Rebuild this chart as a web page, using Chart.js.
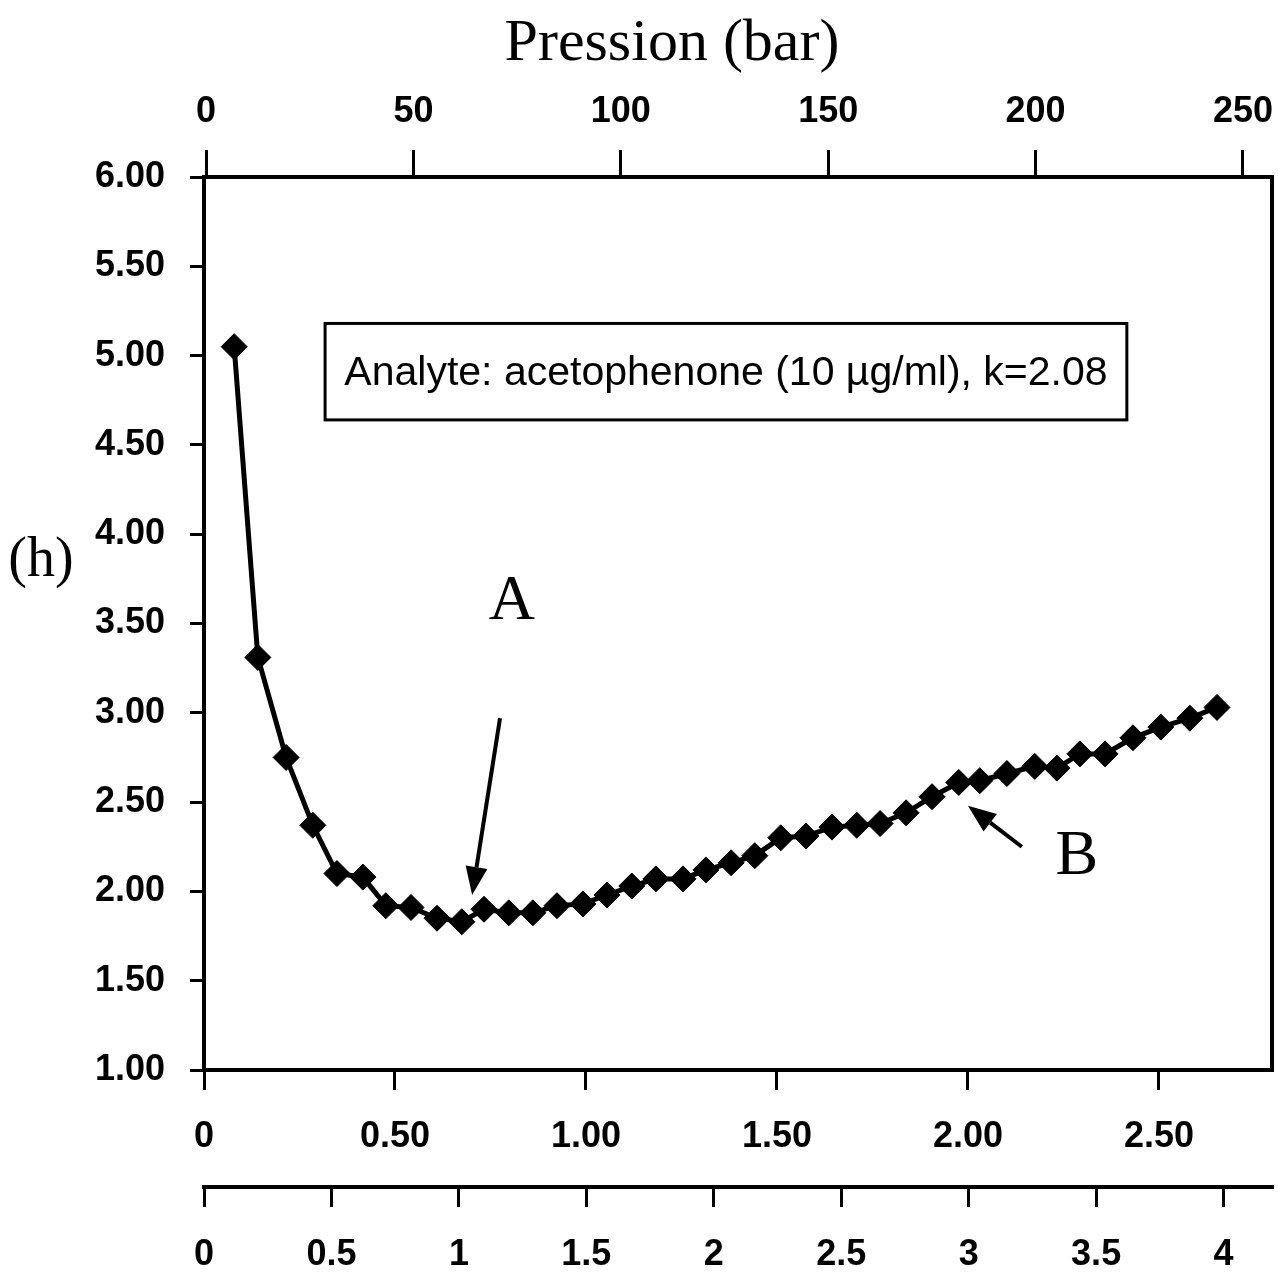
<!DOCTYPE html>
<html>
<head>
<meta charset="utf-8">
<script src="https://cdn.jsdelivr.net/npm/chart.js@4.4.0/dist/chart.umd.min.js"></script>
<style>
	body { margin: 0; background: #fff; }
	#wrap { width: 1278px; height: 1282px; }
</style>
</head>
<body>
<div id="wrap"><canvas id="myChart"></canvas></div>
<script>
// flow read on the lower scale (axis 1), plate height h on y
const flow = [0.079, 0.141, 0.215, 0.285, 0.348, 0.416, 0.476, 0.542, 0.610, 0.675,
	0.733, 0.798, 0.861, 0.924, 0.992, 1.055, 1.120, 1.183, 1.254, 1.314,
	1.380, 1.442, 1.510, 1.576, 1.644, 1.709, 1.770, 1.838, 1.906, 1.976,
	2.031, 2.102, 2.175, 2.233, 2.293, 2.359, 2.432, 2.505, 2.581, 2.652];
const height = [5.05, 3.31, 2.75, 2.37, 2.10, 2.08, 1.92, 1.91, 1.85, 1.83,
	1.90, 1.88, 1.88, 1.92, 1.93, 1.98, 2.03, 2.07, 2.07, 2.12,
	2.16, 2.20, 2.30, 2.31, 2.36, 2.37, 2.38, 2.44, 2.53, 2.61,
	2.62, 2.66, 2.70, 2.69, 2.77, 2.77, 2.86, 2.92, 2.97, 3.03];

const yTicks = [1, 1.5, 2, 2.5, 3, 3.5, 4, 4.5, 5, 5.5, 6];
const axis1Ticks = [0, 0.5, 1, 1.5, 2, 2.5];
const axis2Ticks = [0, 0.5, 1, 1.5, 2, 2.5, 3, 3.5, 4];
const pressureTicks = [0, 50, 100, 150, 200, 250];

const boxText = 'Analyte: acetophenone (10 µg/ml), k=2.08';
const topTitle = 'Pression (bar)';
const leftTitle = '(h)';

const tickFont = { family: "'Liberation Sans', Arial, sans-serif", size: 36, weight: 'bold', lineHeight: 1 };

function fixedTicks(list) {
	return function(scale) {
		scale.ticks = list.map(v => ({ value: v }));
	};
}

function noPad(s) {
	s.paddingLeft = 0; s.paddingRight = 0; s.paddingTop = 0; s.paddingBottom = 0;
}

function axisBase(extra) {
	return Object.assign({
		type: 'linear',
		bounds: 'data',
		grid: { drawOnChartArea: false, color: '#000', lineWidth: 3, tickWidth: 3, tickLength: 20 },
		border: { display: true, color: '#000', width: 4 },
		ticks: { color: '#000', font: tickFont, maxRotation: 0, autoSkip: false }
	}, extra);
}

const extras = {
	id: 'extras',
	afterDraw(chart) {
		const c = chart.ctx;
		const a = chart.chartArea;
		const sx = chart.scales.x, sy = chart.scales.y;
		c.save();
		c.strokeStyle = '#000';
		c.fillStyle = '#000';
		// right frame
		c.lineWidth = 4;
		c.beginPath();
		c.moveTo(a.right, a.top);
		c.lineTo(a.right, a.bottom);
		c.stroke();

		// analyte box
		const bx0 = sx.getPixelForValue(0.317), bx1 = sx.getPixelForValue(2.416);
		const by0 = sy.getPixelForValue(5.18), by1 = sy.getPixelForValue(4.64);
		c.lineWidth = 3;
		c.strokeRect(bx0, by0, bx1 - bx0, by1 - by0);
		c.font = "41px 'Liberation Sans', Arial, sans-serif";
		c.textAlign = 'center';
		c.textBaseline = 'middle';
		c.fillText(boxText, (bx0 + bx1) / 2, (by0 + by1) / 2 + 2);

		// labels A and B
		c.font = "64px 'Liberation Serif', 'Times New Roman', serif";
		c.fillText('A', sx.getPixelForValue(0.806), sy.getPixelForValue(3.62));
		c.fillText('B', sx.getPixelForValue(2.285), sy.getPixelForValue(2.19));

		function arrow(x0, y0, x1, y1) {
			const p0 = [sx.getPixelForValue(x0), sy.getPixelForValue(y0)];
			const p1 = [sx.getPixelForValue(x1), sy.getPixelForValue(y1)];
			const ang = Math.atan2(p1[1] - p0[1], p1[0] - p0[0]);
			const len = 28, half = 11;
			const bxp = p1[0] - len * Math.cos(ang), byp = p1[1] - len * Math.sin(ang);
			c.lineWidth = 4;
			c.beginPath();
			c.moveTo(p0[0], p0[1]);
			c.lineTo(bxp, byp);
			c.stroke();
			c.beginPath();
			c.moveTo(p1[0], p1[1]);
			c.lineTo(bxp + half * Math.sin(ang), byp - half * Math.cos(ang));
			c.lineTo(bxp - half * Math.sin(ang), byp + half * Math.cos(ang));
			c.closePath();
			c.fill();
		}
		arrow(0.775, 2.97, 0.702, 1.98);
		arrow(2.141, 2.25, 2.0, 2.48);

		// axis titles
		c.font = "60px 'Liberation Serif', 'Times New Roman', serif";
		c.fillText(topTitle, a.left + 468, 44);
		c.font = "56px 'Liberation Serif', 'Times New Roman', serif";
		c.fillText(leftTitle, 41, a.top + 384);
		c.restore();
	}
};

const ctx = document.getElementById('myChart').getContext('2d');
const myChart = new Chart(ctx, {
	type: 'line',
	data: {
		datasets: [{
			label: 'h',
			data: flow.map((v, i) => ({ x: v, y: height[i] })),
			xAxisID: 'x',
			yAxisID: 'y',
			borderColor: '#000',
			backgroundColor: '#000',
			borderWidth: 5,
			pointStyle: 'rectRot',
			pointRadius: 13,
			pointBorderWidth: 1,
			tension: 0
		}]
	},
	options: {
		responsive: true,
		maintainAspectRatio: false,
		animation: false,
		layout: { autoPadding: false, padding: { left: 0, right: 6, top: 0, bottom: 0 } },
		plugins: { legend: { display: false }, tooltip: { enabled: false } },
		scales: {
			y: axisBase({
				position: 'left',
				min: 1, max: 6,
				grid: { drawOnChartArea: false, color: '#000', lineWidth: 3, tickWidth: 3, tickLength: 14 },
				ticks: { color: '#000', font: tickFont, padding: 25, callback: v => v.toFixed(2) },
				afterBuildTicks: fixedTicks(yTicks),
				afterFit: s => { s.width = 204; noPad(s); }
			}),
			x: axisBase({
				position: 'bottom',
				weight: 0,
				min: 0, max: 2.796,
				ticks: { color: '#000', font: tickFont, padding: 29, maxRotation: 0, callback: v => v === 0 ? '0' : v.toFixed(2) },
				afterBuildTicks: fixedTicks(axis1Ticks),
				afterFit: s => { s.height = 117; noPad(s); }
			}),
			x2: axisBase({
				position: 'bottom',
				weight: 1,
				min: 0, max: 4.19,
				ticks: { color: '#000', font: tickFont, padding: 30, maxRotation: 0, callback: v => String(v) },
				afterBuildTicks: fixedTicks(axis2Ticks),
				afterFit: s => { s.height = 95; noPad(s); }
			}),
			x3: axisBase({
				position: 'top',
				min: -0.5, max: 257,
				grid: { drawOnChartArea: false, color: '#000', lineWidth: 3, tickWidth: 3, tickLength: 27 },
				ticks: { color: '#000', font: tickFont, padding: 20, maxRotation: 0, callback: v => String(v) },
				afterBuildTicks: fixedTicks(pressureTicks),
				afterFit: s => { s.height = 177; noPad(s); }
			})
		}
	},
	plugins: [extras]
});
</script>
</body>
</html>
